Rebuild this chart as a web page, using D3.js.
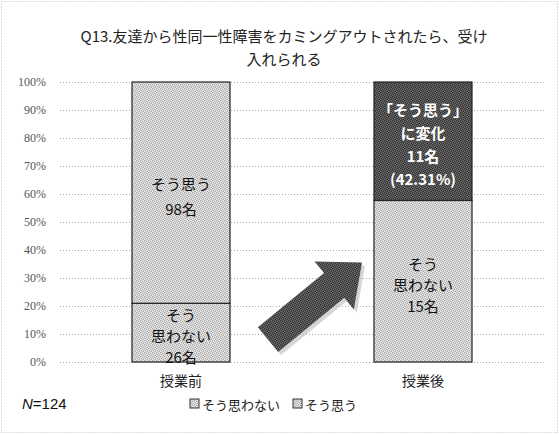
<!DOCTYPE html>
<html>
<head>
<meta charset="utf-8">
<script src="https://cdn.jsdelivr.net/npm/d3@7"></script>
<style>
  body { margin: 0; background: #fff; }
  svg { display: block; font-family: "Noto Sans CJK JP", "Noto Sans", sans-serif; }
</style>
</head>
<body>
<div id="chart"></div>
<script>
const categories = ["授業前", "授業後"];
const notAgree = [26, 15];
const agree = [98, 11];
const yTicks = [0, 0.1, 0.2, 0.3, 0.4, 0.5, 0.6, 0.7, 0.8, 0.9, 1];
const notAgreeLabels = [["そう", "思わない", "26名"], ["そう", "思わない", "15名"]];
const agreeLabels = [["そう思う", "98名"], ["「そう思う」", "に変化", "11名", "(42.31%)"]];
const titleLines = ["Q13.友達から性同一性障害をカミングアウトされたら、受け", "入れられる"];
const legendItems = ["そう思わない", "そう思う"];
// arrow from (between bars, low) up to (just before right bar)
const arrowFrom = 0.08, arrowTo = 0.355;

const width = 559, height = 434;
const svg = d3.select("#chart").append("svg").attr("width", width).attr("height", height);

// dithered fills, like the scanned original
const defs = svg.append("defs");
function dither(id, base, dot, dot2) {
  const p = defs.append("pattern").attr("id", id).attr("width", 4).attr("height", 4)
    .attr("patternUnits", "userSpaceOnUse");
  p.append("rect").attr("width", 4).attr("height", 4).attr("fill", base);
  [[0, 0], [2, 1], [1, 2], [3, 3]].forEach(([a, b]) =>
    p.append("rect").attr("x", a).attr("y", b).attr("width", 1).attr("height", 1).attr("fill", dot));
  [[3, 0], [1, 1], [0, 3], [2, 2]].forEach(([a, b]) =>
    p.append("rect").attr("x", a).attr("y", b).attr("width", 1).attr("height", 1).attr("fill", dot2));
}
dither("light", "#d2d2d2", "#a8a8a8", "#ececec");
dither("dark", "#4e4e4e", "#333", "#6e6e6e");

// chart border (dotted)
svg.append("rect").attr("x", 1.5).attr("y", 1.5).attr("width", width - 3).attr("height", height - 3)
  .attr("fill", "none").attr("stroke", "#bbb").attr("stroke-dasharray", "1,2");

const x = d3.scalePoint().domain(categories).range([60, 544]).padding(0.5);
const y = d3.scaleLinear().domain([0, 1]).range([362, 82]);
const barW = 98;

// gridlines + y labels
const yAxis = d3.axisLeft(y).tickValues(yTicks).tickFormat(d3.format(".0%"))
  .tickSize(-(544 - 60)).tickPadding(14);
const ga = svg.append("g").attr("transform", "translate(60,0)").call(yAxis);
ga.select(".domain").remove();
ga.selectAll(".tick line").attr("stroke", "#aaa").attr("stroke-dasharray", "1,2");
ga.selectAll(".tick text").attr("fill", "#555").style("font-size", "12px")
  .style("font-family", "'Liberation Serif', serif");

// stacked bars
const rows = categories.map((c, i) => {
  const t = notAgree[i] + agree[i];
  return { c, i, p0: notAgree[i] / t };
});
const g = svg.append("g");
g.selectAll(".lo").data(rows).join("rect").attr("class", "lo")
  .attr("x", d => x(d.c) - barW / 2).attr("width", barW)
  .attr("y", d => y(d.p0)).attr("height", d => y(0) - y(d.p0))
  .attr("fill", "url(#light)").attr("stroke", "#222").attr("stroke-width", 1.2);
g.selectAll(".hi").data(rows).join("rect").attr("class", "hi")
  .attr("x", d => x(d.c) - barW / 2).attr("width", barW)
  .attr("y", y(1)).attr("height", d => y(d.p0) - y(1))
  .attr("fill", d => d.i === 1 ? "url(#dark)" : "url(#light)")
  .attr("stroke", "#222").attr("stroke-width", 1.2);

function segLabel(lines, cx, cy, lh, opts) {
  const t = svg.append("text").attr("text-anchor", "middle")
    .style("font-size", "15px").attr("fill", opts.fill).style("font-weight", opts.weight || "normal");
  const y0 = cy - (lines.length - 1) * lh / 2;
  lines.forEach((s, k) => t.append("tspan").attr("x", cx).attr("y", y0 + k * lh)
    .attr("dominant-baseline", "central").text(s));
}
rows.forEach(d => {
  segLabel(notAgreeLabels[d.i], x(d.c), (y(d.p0) + y(0)) / 2 + 3, 21, { fill: "#111" });
  if (d.i === 0) segLabel(agreeLabels[0], x(d.c), (y(1) + y(d.p0)) / 2 + 3, 25, { fill: "#111" });
  else segLabel(agreeLabels[1], x(d.c), (y(1) + y(d.p0)) / 2 + 3, 23, { fill: "#fff", weight: "bold" });
});

// arrow
const ax0 = x(categories[0]) + barW / 2 + 38, ay0 = y(arrowFrom);
const ax1 = x(categories[1]) - barW / 2 - 12, ay1 = y(arrowTo);
const L = Math.hypot(ax1 - ax0, ay1 - ay0);
const ux = (ax1 - ax0) / L, uy = (ay1 - ay0) / L, nx = -uy, ny = ux;
const sw = 16, hw = 31, hl = 36;
const pt = (s, n) => [ax0 + ux * s + nx * n, ay0 + uy * s + ny * n];
const arrowPts = [pt(0, -sw), pt(L - hl, -sw), pt(L - hl, -hw), pt(L, 0), pt(L - hl, hw), pt(L - hl, sw), pt(0, sw)];
svg.append("path").attr("d", d3.line()(arrowPts) + "Z")
  .attr("transform", "translate(3,3)").attr("fill", "#bbb").attr("opacity", 0.6);
svg.append("path").attr("d", d3.line()(arrowPts) + "Z").attr("fill", "url(#dark)");

// category labels
svg.selectAll(".cat").data(categories).join("text").attr("class", "cat")
  .attr("x", d => x(d)).attr("y", 386).attr("text-anchor", "middle")
  .style("font-size", "14px").attr("fill", "#222").text(d => d);

// title
svg.append("text").attr("text-anchor", "middle").style("font-size", "15px").attr("fill", "#222")
  .selectAll("tspan").data(titleLines).join("tspan")
  .attr("x", 284).attr("y", (d, k) => 42 + k * 23).text(d => d);

// N
const nt = svg.append("text").attr("x", 22).attr("y", 409).style("font-size", "15px").attr("fill", "#111")
  .style("font-family", "'Liberation Sans', sans-serif");
nt.append("tspan").style("font-style", "italic").text("N");
nt.append("tspan").text("=124");

// legend
const lg = svg.append("g").attr("transform", "translate(190,404)");
let lx = 0;
legendItems.forEach(s => {
  lg.append("rect").attr("x", lx).attr("y", -5).attr("width", 9).attr("height", 9)
    .attr("fill", "url(#light)").attr("stroke", "#333");
  const t = lg.append("text").attr("x", lx + 12).attr("y", 0).attr("dominant-baseline", "central")
    .style("font-size", "13px").attr("fill", "#222").text(s);
  lx += 12 + t.node().getComputedTextLength() + 13;
});
</script>
</body>
</html>
